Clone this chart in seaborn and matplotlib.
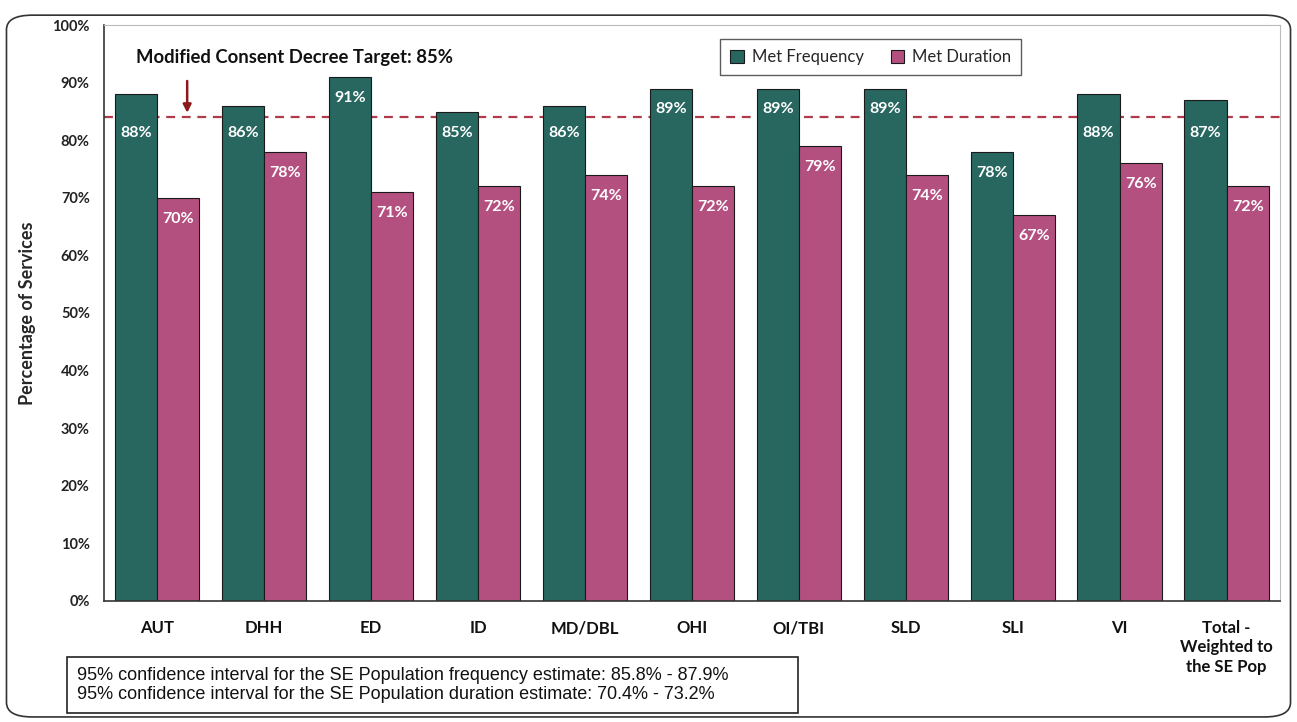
import matplotlib
matplotlib.use("Agg")
import matplotlib.pyplot as plt
import seaborn as sns
import pandas as pd
from matplotlib.patches import FancyBboxPatch, Rectangle

categories = ["AUT", "DHH", "ED", "ID", "MD/DBL", "OHI", "OI/TBI", "SLD", "SLI", "VI",
              "Total -\nWeighted to\nthe SE Pop"]
met_frequency = [88, 86, 91, 85, 86, 89, 89, 89, 78, 88, 87]
met_duration = [70, 78, 71, 72, 74, 72, 79, 74, 67, 76, 72]
series_names = ["Met Frequency", "Met Duration"]
y_ticks = [0, 10, 20, 30, 40, 50, 60, 70, 80, 90, 100]
target_line = 84
ci_lines = ["95% confidence interval for the SE Population frequency estimate: 85.8% - 87.9%",
            "95% confidence interval for the SE Population duration estimate: 70.4% - 73.2%"]

df = pd.DataFrame({
    "cat": categories * 2,
    "val": met_frequency + met_duration,
    "series": [series_names[0]] * len(categories) + [series_names[1]] * len(categories),
})

sns.set_theme(style="white")
plt.rcParams["font.family"] = ["Lato", "DejaVu Sans"]

green = "#27675f"
pink = "#b4507f"

fig = plt.figure(figsize=(12.97, 7.22), dpi=100)
ax = fig.add_axes([0.080, 0.168, 0.907, 0.797])

sns.barplot(data=df, x="cat", y="val", hue="series", palette=[green, pink],
            width=0.79, edgecolor="#1a1a1a", linewidth=0.8, ax=ax, saturation=1)

ax.set_ylim(0, 100)
ax.set_xlim(-0.5, len(categories) - 0.5)
ax.set_yticks(y_ticks)
ax.set_yticklabels([f"{t}%" for t in y_ticks], fontsize=10.5, fontweight="bold", color="#222222")
ax.set_xticks(range(len(categories)))
ax.set_xticklabels(categories, fontsize=12, fontweight="bold", color="#111111", linespacing=1.25)
ax.tick_params(axis="x", length=0, pad=14)
ax.tick_params(axis="y", length=0, pad=10)
ax.set_xlabel("")
ax.set_ylabel("Percentage of Services", fontsize=13, fontweight="bold", labelpad=12)

for s in ["top", "right"]:
    ax.spines[s].set_color("#bbbbbb")
    ax.spines[s].set_linewidth(0.8)
ax.spines["left"].set_color("#333333")
ax.spines["bottom"].set_color("#333333")
ax.spines["left"].set_linewidth(1.2)
ax.spines["bottom"].set_linewidth(1.2)

# value labels
for container in ax.containers:
    for bar in container:
        h = bar.get_height()
        yc = h - 3.6
        if 80 < yc < 85:
            yc = 81.2
        ax.text(bar.get_x() + bar.get_width() / 2, yc, f"{h:.0f}%",
                ha="center", va="center", color="white", fontsize=11.5, fontweight="bold")

# target line
ax.axhline(target_line, color="#b03a4a", linestyle=(0, (4, 3)), linewidth=1.6, zorder=0.5)
ax.annotate("", xy=(0.28, target_line + 0.3), xytext=(0.28, 90.8),
            arrowprops=dict(arrowstyle="-|>", color="#8b1a1a", lw=1.8, mutation_scale=12))
ax.text(-0.2, 94.4, "Modified Consent Decree Target: 85%", fontsize=13.3, fontweight="bold",
        ha="left", va="center", color="#111111")

leg = ax.legend(loc="upper left", bbox_to_anchor=(0.517, 0.99), ncol=2, frameon=True,
                fancybox=False, edgecolor="#333333", fontsize=12, handlelength=0.8,
                handleheight=0.8, columnspacing=1.6, borderpad=0.6, handletextpad=0.5)
leg.get_frame().set_linewidth(1.0)

# outer rounded frame
frame = FancyBboxPatch((0.005, 0.007), 0.990, 0.972, boxstyle="round,pad=0,rounding_size=0.02",
                       transform=fig.transFigure, fill=False, edgecolor="#333333", linewidth=1.2)
fig.patches.append(frame)

# CI text box
box = Rectangle((0.052, 0.013), 0.563, 0.077, transform=fig.transFigure, fill=True,
                facecolor="white", edgecolor="#222222", linewidth=1.2)
fig.patches.append(box)
fig.text(0.059, 0.064, ci_lines[0], fontsize=13, family="Liberation Sans", color="#111111",
         va="center", ha="left")
fig.text(0.059, 0.038, ci_lines[1], fontsize=13, family="Liberation Sans", color="#111111",
         va="center", ha="left")

fig.savefig("out.png", dpi=100)
